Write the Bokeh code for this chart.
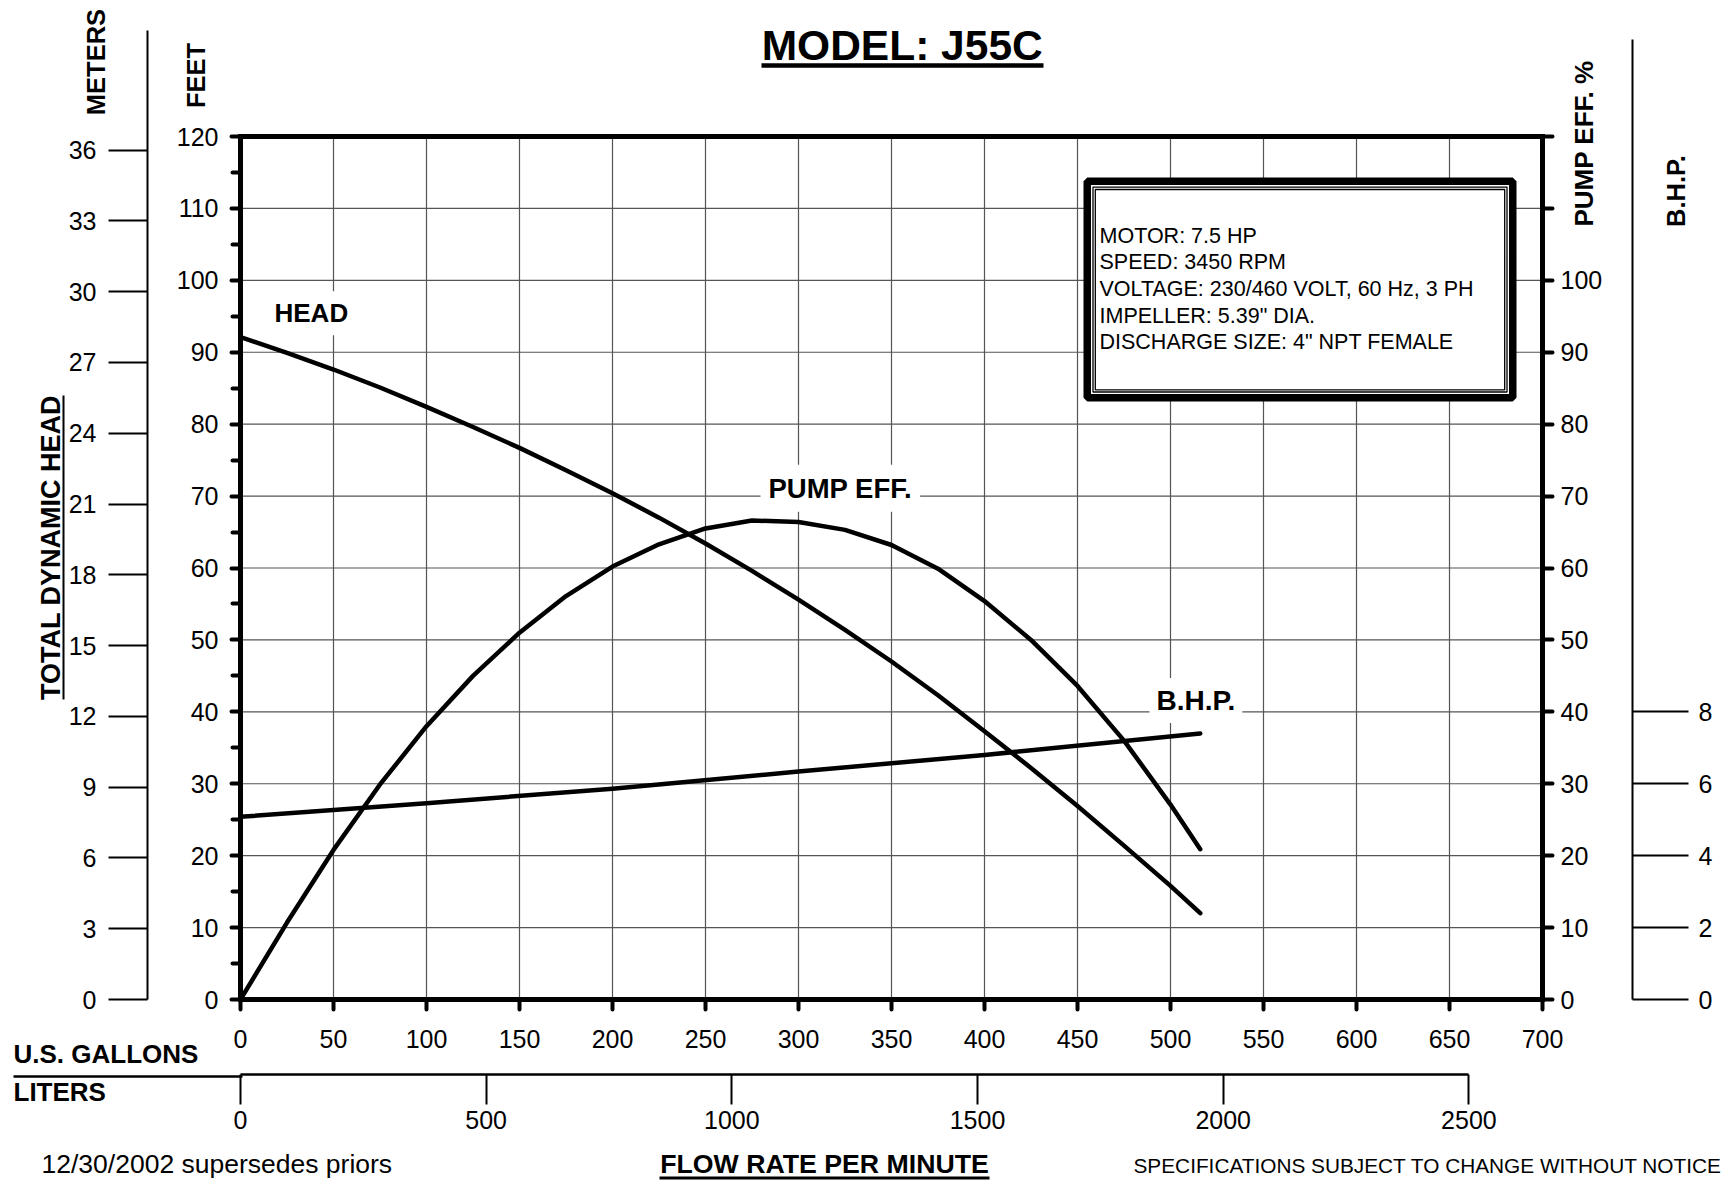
import math
from bokeh.plotting import figure
from bokeh.models import Range1d, LinearAxis, FixedTicker, Label, Span, Arrow, GridBox
from bokeh.core.properties import value
from bokeh.embed import file_html
from bokeh.resources import INLINE

# ---------------- data ----------------
flow_gpm = [0, 25, 50, 75, 100, 125, 150, 175, 200, 225, 250, 275, 300,
            325, 350, 375, 400, 425, 450, 475, 500, 516]
head_ft = [92.1, 89.9, 87.6, 85.1, 82.4, 79.6, 76.7, 73.6, 70.4, 67.0, 63.4,
           59.6, 55.6, 51.4, 47.0, 42.3, 37.3, 32.2, 26.9, 21.4, 15.8, 12.0]
pump_eff_pct = [0.0, 10.7, 20.8, 29.9, 38.0, 45.0, 51.0, 56.1, 60.2, 63.3, 65.5,
                66.6, 66.4, 65.3, 63.2, 59.9, 55.4, 50.0, 43.6, 36.0, 27.1, 20.9]
bhp_flow_gpm = [0, 100, 200, 300, 400, 516]
bhp_hp = [5.08, 5.46, 5.86, 6.34, 6.80, 7.40]

gpm_ticks = list(range(0, 701, 50))
feet_ticks = list(range(0, 121, 10))
feet_minor_ticks = list(range(5, 120, 10))
meter_ticks = list(range(0, 37, 3))
eff_ticks = list(range(0, 121, 10))
bhp_ticks = [0, 2, 4, 6, 8]
liter_ticks = [0, 500, 1000, 1500, 2000, 2500]

motor_info = ["MOTOR: 7.5 HP", "SPEED: 3450 RPM",
              "VOLTAGE: 230/460 VOLT, 60 Hz, 3 PH",
              'IMPELLER: 5.39" DIA.', 'DISCHARGE SIZE: 4" NPT FEMALE']

FT_PER_M = 3.28084
L_PER_GAL = 3.785411784
FT_PER_HP = 5.0

# ---------------- layout (page pixels) ----------------
W, H = 1729, 1180
FR_L, FR_R = 240, 1542
FR_B, FR_120, FR_T = 999, 136, 30
PX_GPM = (FR_R - FR_L) / 700.0
PX_FT = (FR_B - FR_120) / 120.0
YMAX = (FR_B - FR_T) / PX_FT


def gx(px):
    return (px - FR_L) / PX_GPM


def fy(py):
    return (FR_B - py) / PX_FT


FONT = "Liberation Sans"
TICK_FS = "25px"

p = figure(width=W, height=H, x_range=Range1d(0, 700), y_range=Range1d(0, YMAX),
           output_backend="svg", toolbar_location=None,
           min_border_left=FR_L, min_border_right=W - FR_R,
           min_border_top=FR_T, min_border_bottom=H - FR_B)
p.grid.visible = False
p.outline_line_color = None
p.background_fill_color = "white"
p.border_fill_color = "white"

p.extra_y_ranges = {"m": Range1d(0, YMAX / FT_PER_M),
                    "eff": Range1d(0, YMAX),
                    "bhp": Range1d(0, YMAX / FT_PER_HP)}
p.extra_x_ranges = {"L": Range1d(0, 700 * L_PER_GAL)}


def style_axis(ax, size=TICK_FS):
    ax.major_label_text_font = FONT
    ax.major_label_text_font_size = size
    ax.major_label_text_color = "black"
    ax.axis_line_color = "black"
    ax.major_tick_line_color = "black"
    ax.minor_tick_line_color = "black"
    ax.major_tick_in = 0
    ax.minor_tick_in = 0


# feet axis (left, next to frame)
ya = p.yaxis[0]
style_axis(ya)
ya.ticker = FixedTicker(ticks=feet_ticks, minor_ticks=feet_minor_ticks)
ya.bounds = (0, 120)
ya.axis_line_width = 5
ya.axis_line_cap = "square"
ya.major_tick_out = 9
ya.major_tick_line_width = 4
ya.major_tick_line_cap = "round"
ya.minor_tick_out = 8
ya.minor_tick_line_width = 4
ya.minor_tick_line_cap = "round"
ya.major_label_standoff = 13
ya.axis_label = " "
ya.axis_label_text_font_size = "1px"
ya.axis_label_standoff = 22

# meters axis
ma = LinearAxis(y_range_name="m", ticker=FixedTicker(ticks=meter_ticks))
style_axis(ma)
ma.axis_line_width = 2
ma.major_tick_out = 39
ma.major_tick_line_width = 2
ma.minor_tick_out = 0
ma.major_label_standoff = 12
p.add_layout(ma, "left")

# gpm axis (bottom)
xa = p.xaxis[0]
style_axis(xa)
xa.ticker = FixedTicker(ticks=gpm_ticks)
xa.axis_line_width = 5
xa.axis_line_cap = "square"
xa.major_tick_out = 10
xa.major_tick_line_width = 4
xa.major_tick_line_cap = "round"
xa.minor_tick_out = 0
xa.major_label_standoff = 20
xa.axis_label = " "
xa.axis_label_text_font_size = "1px"
xa.axis_label_standoff = 20

# liters axis
la = LinearAxis(x_range_name="L", ticker=FixedTicker(ticks=liter_ticks), bounds=(0, 2500))
style_axis(la)
la.axis_line_width = 2.5
la.major_tick_out = 30
la.major_tick_line_width = 2
la.minor_tick_out = 0
la.major_label_standoff = 6
p.add_layout(la, "below")

# pump efficiency axis (right, next to frame)
ea = LinearAxis(y_range_name="eff", ticker=FixedTicker(ticks=eff_ticks), bounds=(0, 120),
                major_label_overrides={110: "", 120: ""})
style_axis(ea)
ea.axis_line_width = 5
ea.axis_line_cap = "square"
ea.major_tick_out = 10
ea.major_tick_line_width = 4
ea.major_tick_line_cap = "round"
ea.minor_tick_out = 0
ea.major_label_standoff = 8
ea.axis_label = " "
ea.axis_label_text_font_size = "1px"
ea.axis_label_standoff = 23
p.add_layout(ea, "right")

# B.H.P. axis
ba = LinearAxis(y_range_name="bhp", ticker=FixedTicker(ticks=bhp_ticks),
                bounds=(0, fy(39) / FT_PER_HP))
style_axis(ba)
ba.axis_line_width = 2
ba.major_tick_out = 56
ba.major_tick_line_width = 2
ba.minor_tick_out = 0
ba.major_label_standoff = 10
p.add_layout(ba, "right")

# top border of the chart area
p.add_layout(Span(location=120, dimension="width", line_color="black", line_width=5))

# grid
vx = [t for t in gpm_ticks if 0 < t < 700]
hy = [t for t in feet_ticks if 0 < t < 120]
GRID = "#555555"
p.segment(x0=vx, y0=[0] * len(vx), x1=vx, y1=[120] * len(vx), line_color=GRID, line_width=1.2)
p.segment(x0=[0] * len(hy), y0=hy, x1=[700] * len(hy), y1=hy, line_color=GRID, line_width=1.2)

# info box
p.quad(left=gx(1086.75), right=gx(1512.25), top=fy(180.75), bottom=fy(397.25),
       fill_color="white", line_color="black", line_width=7.5)
p.quad(left=gx(1092.5), right=gx(1506.5), top=fy(186.6), bottom=fy(391.5),
       fill_color=None, line_color="black", line_width=1.3)
p.quad(left=gx(1094.8), right=gx(1504.2), top=fy(189.0), bottom=fy(389.3),
       fill_color=None, line_color="black", line_width=1.3)
info_mid = [235.0, 261.7, 288.4, 315.1, 341.8]
p.text(x=[gx(1099)] * len(motor_info), y=[fy(b) for b in info_mid], text=motor_info,
       text_font=value(FONT), text_font_size="21.5px", text_color="black",
       text_align="left", text_baseline="middle")

# curves
p.line(flow_gpm, head_ft, line_color="black", line_width=4.5, line_cap="round", line_join="round")
p.line(flow_gpm, pump_eff_pct, y_range_name="eff", line_color="black", line_width=4.5,
       line_cap="round", line_join="round")
p.line(bhp_flow_gpm, bhp_hp, y_range_name="bhp", line_color="black", line_width=4.5,
       line_cap="round", line_join="round")


def lab(text, px, cy, size, align="left", bg=None, pad=0):
    # px: left edge (or centre) of the text itself; the padded box starts pad px earlier
    x_anchor = px - pad if align == "left" else px
    kw = dict(x=gx(x_anchor), y=fy(cy), text=text, text_font=FONT, text_font_size=size,
              text_font_style="bold", text_color="black",
              text_align=align, text_baseline="middle")
    if bg:
        kw.update(background_fill_color=bg, padding=pad)
    p.add_layout(Label(**kw))


# curve labels (inside the chart area)
lab("HEAD", 274, 312.7, "26px", bg="white", pad=7)
lab("PUMP EFF.", 768, 487.7, "27.5px", bg="white", pad=8)
lab("B.H.P.", 1156, 700.0, "28px", bg="white", pad=7)

# title
lab("MODEL: J55C", 901.7, 45.0, "42.5px", align="center")
p.add_layout(Arrow(x_start=gx(761), y_start=fy(65), x_end=gx(1043), y_end=fy(65),
                   start=None, end=None, line_color="black", line_width=4.5))

# ---------------- texts around the chart (transparent overlay) ----------------
t = figure(width=W, height=H, x_range=Range1d(0, W), y_range=Range1d(0, H),
           output_backend="svg", toolbar_location=None,
           x_axis_location=None, y_axis_location=None, min_border=0)
t.grid.visible = False
t.outline_line_color = None
t.background_fill_color = None
t.border_fill_color = None

for fig in (p, t):
    if "frame_align" in fig.properties():
        fig.frame_align = False


def ty(py):
    return H - py


def ttext(texts, xs, ys, size, bold=True, align="left", angle=0.0):
    t.text(x=xs, y=[ty(v) for v in ys], text=texts, angle=angle,
           text_font=value(FONT), text_font_size=size,
           text_font_style="bold" if bold else "normal", text_color="black",
           text_align=align, text_baseline="middle")


ttext(["METERS", "FEET"], [95, 195], [61.5, 75], "25.5px", align="center", angle=math.pi / 2)
ttext(["TOTAL DYNAMIC HEAD"], [50], [547], "27px", align="center", angle=math.pi / 2)
ttext(["PUMP EFF. %"], [1583], [143], "26px", align="center", angle=math.pi / 2)
ttext(["B.H.P."], [1675], [190.5], "25.5px", align="center", angle=math.pi / 2)
ttext(["U.S. GALLONS", "LITERS"], [13, 13], [1053, 1091.5], "26px")
ttext(["FLOW RATE PER MINUTE"], [824], [1163.5], "26.7px", align="center")
ttext(["12/30/2002  supersedes priors"], [41], [1163.5], "26.5px", bold=False)
ttext(["SPECIFICATIONS SUBJECT TO CHANGE WITHOUT NOTICE"], [1133], [1165], "20.8px", bold=False)

# underlines and the gallon/liter separator line
t.segment(x0=[63, 13, 659], y0=[ty(395), ty(1076), ty(1177.5)],
          x1=[63, 242, 989], y1=[ty(699), ty(1076), ty(1177.5)],
          line_color="black", line_width=[2, 2.5, 3])

layout = GridBox(children=[(p, 0, 0), (t, 0, 0)])
open("out.html", "w").write(file_html(layout, INLINE))
